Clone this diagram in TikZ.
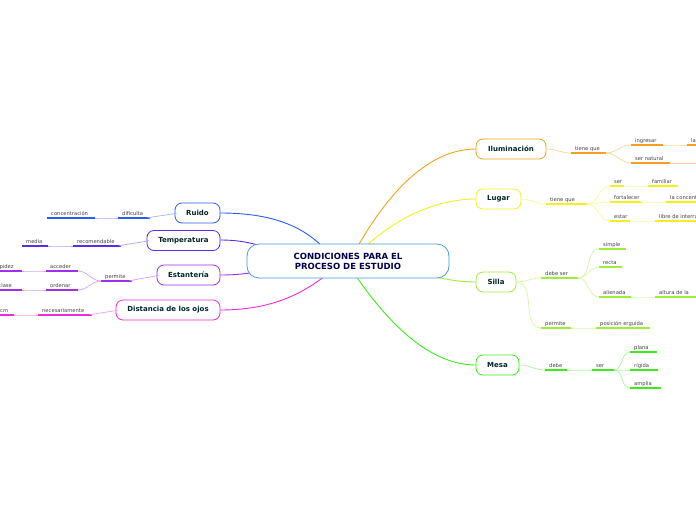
\documentclass[tikz,border=0pt]{standalone}
\usepackage{fontspec}
\setmainfont{DejaVu Sans}
\begin{document}
\begin{tikzpicture}[x=1pt,y=-1pt,
 lbl/.style={font=\fontsize{5.2}{6}\selectfont, text=black!75, inner sep=0pt, anchor=base west},
 topic/.style={draw, line width=0.8pt, rounded corners=7pt, fill=white, font=\fontsize{7}{8}\bfseries\selectfont, text=black!70!teal, minimum height=20pt, inner sep=0pt},
 br/.style={line width=0.9pt}]
\useasboundingbox (0,0) rectangle (696,520);
\clip (0,0) rectangle (696,520);
\definecolor{cR}{HTML}{2A5CF0}\definecolor{cT}{HTML}{5A2BE8}\definecolor{cE}{HTML}{A030E8}
\definecolor{cD}{HTML}{F02AD8}\definecolor{cI}{HTML}{F5A020}\definecolor{cL}{HTML}{F2F020}
\definecolor{cS}{HTML}{9CEE3A}\definecolor{cM}{HTML}{3EEA1E}\definecolor{cC}{HTML}{4A9AD8}
\newcommand\lf[6]{\draw[#5,line width=1.3pt] (#1,#3) coordinate (#6a) -- (#2,#3) coordinate (#6b); \node[lbl] (#6) at (#1+4,#3-3) {#4};}
\newcommand\cn[3]{\draw[#3!45,line width=0.7pt] (#1) to[out=0,in=180] (#2);}
% main branches
\draw[cR,br] (220,213) .. controls (270,213) and (300,225) .. (322,246);
\draw[cT,br] (220,240) .. controls (240,240) and (250,243) .. (262,246);
\draw[cE,br] (220,275) .. controls (240,275) and (250,273) .. (262,271);
\draw[cD,br] (220,310) .. controls (270,310) and (300,295) .. (325,276);
\draw[cI,br] (358,246) .. controls (390,190) and (430,149) .. (476,149);
\draw[cL,br] (366,246) .. controls (400,215) and (440,199) .. (476,199);
\draw[cS,br] (430,276) .. controls (450,280) and (460,282) .. (476,282);
\draw[cM,br] (356,276) .. controls (400,340) and (440,365) .. (476,365);
\node[draw=cC, line width=0.8pt, rounded corners=12pt, fill=white, minimum width=202pt, minimum height=34pt, align=center, font=\fontsize{8.5}{10}\bfseries\selectfont, text=black!70!blue, inner sep=0pt] (c) at (348,261) {CONDICIONES PARA EL\\PROCESO DE ESTUDIO};
% topics
\node[topic,draw=cR,minimum width=45pt] (ru) at (197.5,213) {Ruido};
\node[topic,draw=cT,minimum width=73pt] (te) at (183.5,240.5) {Temperatura};
\node[topic,draw=cE,minimum width=63pt] (es) at (188.5,275) {Estantería};
\node[topic,draw=cD,minimum width=104pt] (di) at (168,310) {Distancia de los ojos};
\node[topic,draw=cI,minimum width=70pt] (il) at (511,149) {Iluminación};
\node[topic,draw=cL,minimum width=45pt] (lu) at (498.5,199) {Lugar};
\node[topic,draw=cS,minimum width=40pt] (si) at (496,282) {Silla};
\node[topic,draw=cM,minimum width=43pt] (me) at (497.5,365) {Mesa};
% left leaves
\lf{118}{150}{218}{dificulta}{cR}{r1}\lf{47}{95}{218}{concentración}{cR}{r2}
\cn{ru.west}{r1b}{cR}\cn{r2b}{r1a}{cR}
\lf{73}{121}{246}{recomendable}{cT}{t1}\lf{22}{48}{246}{media}{cT}{t2}
\cn{te.west}{t1b}{cT}\cn{t2b}{t1a}{cT}
\lf{101}{132}{281}{permite}{cE}{e1}\lf{46}{78}{271}{acceder}{cE}{e2}\lf{46}{78}{290}{ordenar}{cE}{e3}
\lf{-10}{22}{271}{rapidez}{cE}{e4}\lf{-12}{22}{290}{la clase}{cE}{e5}
\cn{es.west}{e1b}{cE}\cn{e2b}{e1a}{cE}\cn{e3b}{e1a}{cE}\cn{e4b}{e2a}{cE}\cn{e5b}{e3a}{cE}
\lf{38}{92}{315}{necesariamente}{cD}{d1}\lf{-4}{14}{315}{cm}{cD}{d2}
\cn{di.west}{d1b}{cD}\cn{d2b}{d1a}{cD}
% right leaves
\lf{571}{606}{153}{tiene que}{cI}{i1}\lf{631}{663}{145}{ingresar}{cI}{i2}\lf{687}{720}{145}{la luz}{cI}{i3}
\lf{631}{670}{163}{ser natural}{cI}{i4}\draw[cI!45,line width=0.7pt] (i4b)--(700,163);
\cn{il.east}{i1a}{cI}\cn{i1b}{i2a}{cI}\cn{i1b}{i4a}{cI}\cn{i2b}{i3a}{cI}
\lf{546}{587}{204}{tiene que}{cL}{l1}\lf{610}{624}{186}{ser}{cL}{l2}\lf{648}{678}{186}{familiar}{cL}{l3}
\lf{610}{641}{202}{fortalecer}{cL}{l4}\lf{666}{720}{202}{la concentración}{cL}{l5}
\lf{610}{630}{221}{estar}{cL}{l6}\lf{655}{720}{221}{libre de interrupciones}{cL}{l7}
\cn{lu.east}{l1a}{cL}\cn{l1b}{l2a}{cL}\cn{l1b}{l4a}{cL}\cn{l1b}{l6a}{cL}\cn{l2b}{l3a}{cL}\cn{l4b}{l5a}{cL}\cn{l6b}{l7a}{cL}
\lf{541}{578}{278}{debe ser}{cS}{s1}\lf{599}{626}{249}{simple}{cS}{s2}\lf{599}{622}{267}{recta}{cS}{s3}
\lf{599}{631}{297}{alienada}{cS}{s4}\lf{655}{720}{297}{altura de la}{cS}{s5}
\lf{541}{571}{328}{permite}{cS}{s6}\lf{596}{650}{328}{posición erguida}{cS}{s7}
\cn{si.east}{s1a}{cS}\cn{si.east}{s6a}{cS}\cn{s1b}{s2a}{cS}\cn{s1b}{s3a}{cS}\cn{s1b}{s4a}{cS}\cn{s4b}{s5a}{cS}\cn{s6b}{s7a}{cS}
\lf{545}{567}{370}{debe}{cM}{m1}\lf{592}{614}{370}{ser}{cM}{m2}
\lf{630}{657}{352}{plana}{cM}{m3}\lf{630}{658}{370}{rígida}{cM}{m4}\lf{630}{661}{388}{amplia}{cM}{m5}
\cn{me.east}{m1a}{cM}\cn{m1b}{m2a}{cM}\cn{m2b}{m3a}{cM}\cn{m2b}{m4a}{cM}\cn{m2b}{m5a}{cM}
\end{tikzpicture}
\end{document}
